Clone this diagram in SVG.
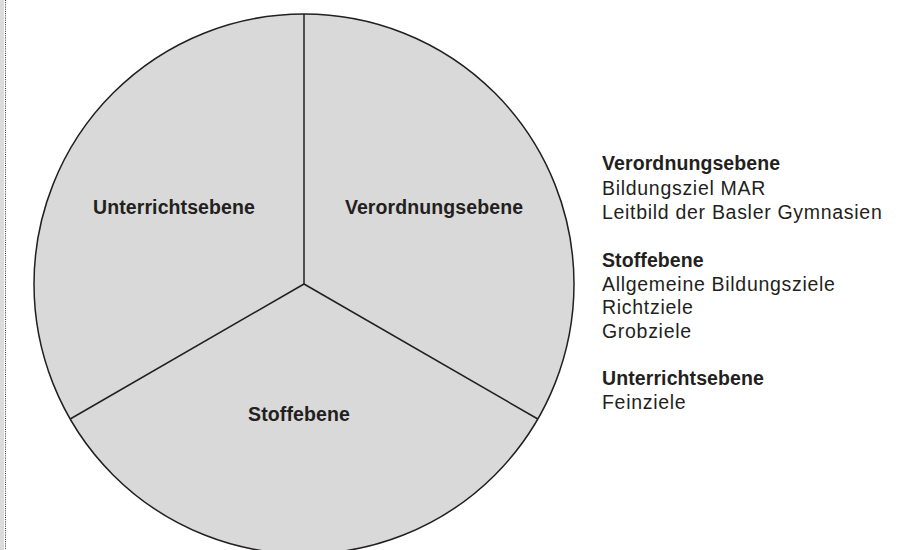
<svg xmlns="http://www.w3.org/2000/svg" width="918" height="550" viewBox="0 0 918 550">
<style>
.t{font-family:"Liberation Sans",Arial,Helvetica,sans-serif;font-size:19.5px;fill:#231f20;letter-spacing:0.7px}
.b{font-weight:bold;letter-spacing:0.1px}
.seg{stroke:#231f20;stroke-width:1.5;fill:none}
</style>
<rect x="0" y="0" width="4" height="550" fill="#dcdcdc"/>
<line x1="5.5" y1="0" x2="5.5" y2="550" stroke="#333" stroke-width="1" stroke-dasharray="1 1.2"/>
<g id="pie">
<circle cx="304" cy="284" r="270" fill="#d9d9d9" stroke="#231f20" stroke-width="1.5"/>
</g>
<g id="connectors">
<line class="seg" x1="304" y1="284" x2="304" y2="14"/>
<line class="seg" x1="304" y1="284" x2="70.2" y2="419"/>
<line class="seg" x1="304" y1="284" x2="537.8" y2="419"/>
</g>
<g id="unterricht"><text class="t b" x="174" y="214" text-anchor="middle">Unterrichtsebene</text></g>
<g id="verordnung"><text class="t b" x="434" y="214" text-anchor="middle">Verordnungsebene</text></g>
<g id="stoff"><text class="t b" x="299" y="421" text-anchor="middle">Stoffebene</text></g>
<g id="legend">
<text class="t b" x="602" y="170">Verordnungsebene</text>
<text class="t" x="602" y="195">Bildungsziel MAR</text>
<text class="t" x="602" y="219">Leitbild der Basler Gymnasien</text>
<text class="t b" x="602" y="267">Stoffebene</text>
<text class="t" x="602" y="291">Allgemeine Bildungsziele</text>
<text class="t" x="602" y="314">Richtziele</text>
<text class="t" x="602" y="338">Grobziele</text>
<text class="t b" x="602" y="385">Unterrichtsebene</text>
<text class="t" x="602" y="409">Feinziele</text>
</g>
</svg>
